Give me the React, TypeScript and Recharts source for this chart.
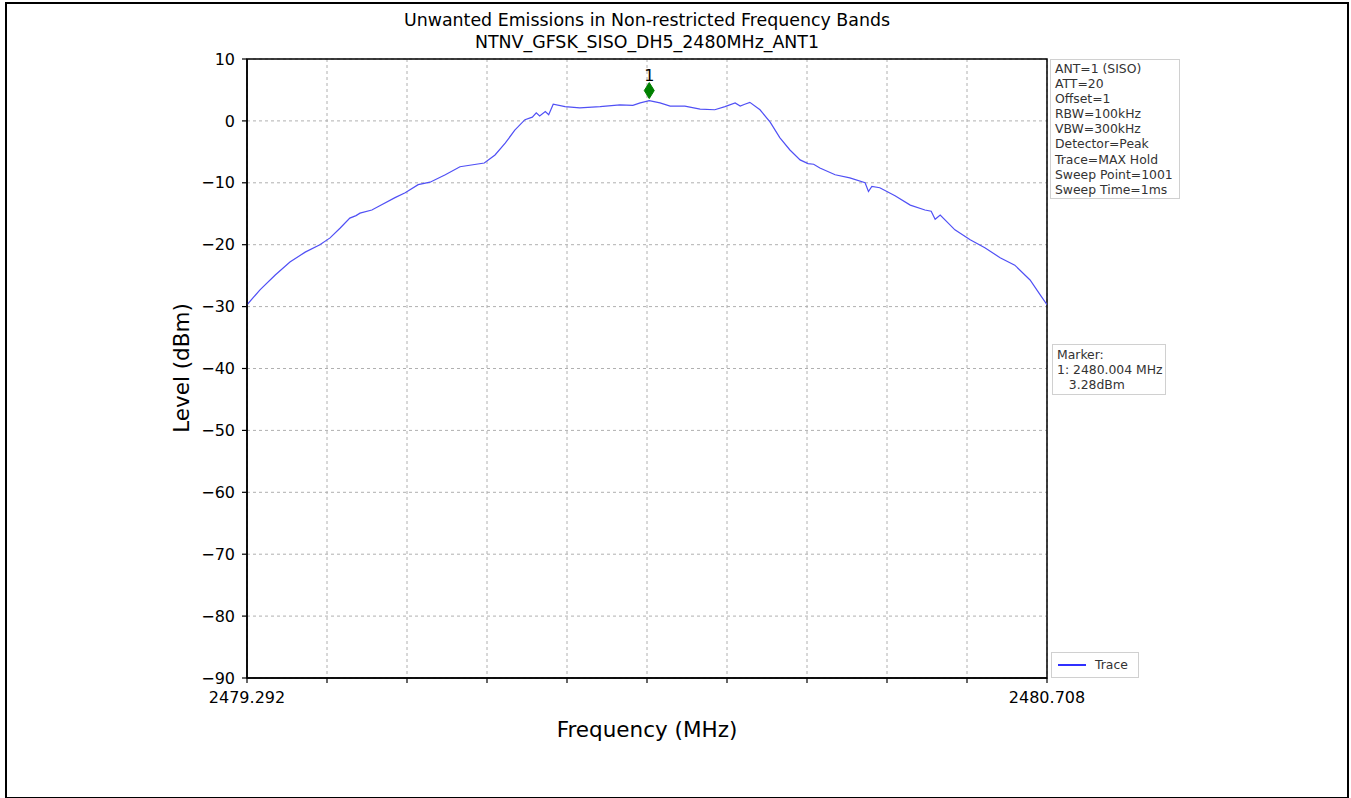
import { LineChart, Line, XAxis, YAxis, CartesianGrid, ReferenceArea, ReferenceDot } from 'recharts'

// trace (MHz / dBm)
const freqs = [
  2479.292, 2479.315, 2479.342, 2479.368, 2479.395, 2479.421, 2479.439, 2479.457, 2479.474, 2479.485,
  2479.492, 2479.513, 2479.527, 2479.554, 2479.572, 2479.595, 2479.616, 2479.643, 2479.669, 2479.712,
  2479.731, 2479.749, 2479.766, 2479.784, 2479.797, 2479.804, 2479.81, 2479.82, 2479.826, 2479.834,
  2479.855, 2479.881, 2479.917, 2479.952, 2479.975, 2479.988, 2480.004, 2480.023, 2480.041, 2480.067,
  2480.094, 2480.12, 2480.138, 2480.156, 2480.165, 2480.173, 2480.182, 2480.2, 2480.218, 2480.235,
  2480.253, 2480.271, 2480.285, 2480.295, 2480.306, 2480.333, 2480.359, 2480.386, 2480.392, 2480.398,
  2480.412, 2480.439, 2480.466, 2480.492, 2480.503, 2480.51, 2480.519, 2480.545, 2480.572, 2480.598,
  2480.625, 2480.651, 2480.678, 2480.696, 2480.708,
]
const levels = [
  -29.7, -27.3, -24.9, -22.8, -21.2, -20.0, -18.9, -17.3, -15.7, -15.3,
  -14.9, -14.4, -13.7, -12.4, -11.6, -10.3, -9.9, -8.7, -7.4, -6.8,
  -5.5, -3.6, -1.5, 0.2, 0.6, 1.3, 0.8, 1.5, 1.0, 2.7,
  2.3, 2.1, 2.3, 2.6, 2.5, 2.9, 3.28, 2.9, 2.4, 2.4,
  1.9, 1.8, 2.3, 2.9, 2.4, 2.7, 3.0, 1.8, -0.2, -2.7,
  -4.7, -6.3, -6.9, -7.0, -7.6, -8.7, -9.2, -10.0, -11.4, -10.6,
  -10.8, -12.1, -13.6, -14.4, -14.6, -15.9, -15.2, -17.6, -19.2, -20.5,
  -22.1, -23.3, -25.7, -28.1, -29.7,
]
const xTicks = [
  2479.292, 2479.4336, 2479.5752, 2479.7168, 2479.8584, 2480.0, 2480.1416, 2480.2832, 2480.4248, 2480.5664,
  2480.708,
]
const yTicks = [10, 0, -10, -20, -30, -40, -50, -60, -70, -80, -90]
const settings = [
  'ANT=1 (SISO)',
  'ATT=20',
  'Offset=1',
  'RBW=100kHz',
  'VBW=300kHz',
  'Detector=Peak',
  'Trace=MAX Hold',
  'Sweep Point=1001',
  'Sweep Time=1ms',
]
const markerLines = ['Marker:', '1: 2480.004 MHz', '   3.28dBm']
const markerFreq = 2480.004
const markerLevel = 4.9

const font = '"DejaVu Sans", sans-serif'

const chartData = freqs.map((f, i) => ({ freq: f, level: levels[i] }))

function XTick(props: any) {
  const { x, y, payload, index } = props
  const show = index === 0 || index === xTicks.length - 1
  return (
    <g>
      <line x1={x} y1={y - 8} x2={x} y2={y - 3} stroke="#000" strokeWidth={1.2} />
      {show && (
        <text x={x} y={y + 17} textAnchor="middle" fontSize={16} fill="#000" fontFamily={font}>
          {payload.value.toFixed(3)}
        </text>
      )}
    </g>
  )
}

function Diamond(props: any) {
  const { cx, cy } = props
  return (
    <g>
      <polygon
        points={`${cx},${cy - 8} ${cx + 5},${cy} ${cx},${cy + 8} ${cx - 5},${cy}`}
        fill="#008000"
        stroke="#008000"
      />
      <text x={cx} y={cy - 10} textAnchor="middle" fontSize={16} fill="#000" fontFamily={font}>
        1
      </text>
    </g>
  )
}

const boxStyle: React.CSSProperties = {
  position: 'absolute',
  border: '1px solid #d0d0d0',
  background: '#fff',
  fontFamily: font,
  fontSize: 12.4,
  lineHeight: '15.1px',
  color: '#333',
  whiteSpace: 'pre',
  padding: '1px 4px',
}

export default function App() {
  return (
    <div style={{ position: 'absolute', left: 0, top: 0, width: 1351, height: 798, background: '#fff', fontFamily: font }}>
      <div style={{ position: 'absolute', left: 5, top: 2, width: 1340, height: 793, border: '2px solid #000' }} />
      <div
        style={{
          position: 'absolute',
          left: 247,
          width: 800,
          top: 9,
          textAlign: 'center',
          fontSize: 17.4,
          lineHeight: '22px',
          color: '#000',
        }}
      >
        <div>Unwanted Emissions in Non-restricted Frequency Bands</div>
        <div>NTNV_GFSK_SISO_DH5_2480MHz_ANT1</div>
      </div>
      <LineChart
        width={1351}
        height={798}
        data={chartData}
        margin={{ top: 59, left: 187, right: 304, bottom: 90 }}
        style={{ position: 'absolute', left: 0, top: 0 }}
      >
        <CartesianGrid
          stroke="#b0b0b0"
          strokeDasharray="3 3"
          verticalValues={xTicks}
          horizontalValues={yTicks}
        />
        <XAxis
          dataKey="freq"
          type="number"
          domain={[2479.292, 2480.708]}
          ticks={xTicks}
          interval={0}
          height={30}
          axisLine={{ stroke: '#000', strokeWidth: 1.5 }}
          tickLine={false}
          tick={<XTick />}
          allowDataOverflow
        />
        <YAxis
          type="number"
          domain={[-90, 10]}
          ticks={yTicks}
          interval={0}
          width={60}
          axisLine={{ stroke: '#000', strokeWidth: 1.5 }}
          tickLine={{ stroke: '#000', strokeWidth: 1.2 }}
          tickSize={5}
          tick={{ fontSize: 16, fill: '#000', fontFamily: font, dx: -5 }}
          tickFormatter={(v: number) => String(v).replace('-', '\u2212')}
        />
        <ReferenceArea
          x1={2479.292}
          x2={2480.708}
          y1={-90}
          y2={10}
          fill="none"
          stroke="#000"
          strokeWidth={1.5}
          ifOverflow="visible"
        />
        <Line
          type="linear"
          dataKey="level"
          stroke="#5050f5"
          strokeWidth={1.2}
          dot={false}
          isAnimationActive={false}
        />
        <ReferenceDot x={markerFreq} y={markerLevel} shape={<Diamond />} ifOverflow="visible" />
      </LineChart>
      <div
        style={{
          position: 'absolute',
          left: 181,
          top: 368,
          transform: 'translate(-50%, -50%) rotate(-90deg)',
          fontSize: 21.5,
          whiteSpace: 'nowrap',
          color: '#000',
        }}
      >
        Level (dBm)
      </div>
      <div
        style={{
          position: 'absolute',
          left: 247,
          width: 800,
          top: 717,
          textAlign: 'center',
          fontSize: 21.5,
          color: '#000',
        }}
      >
        Frequency (MHz)
      </div>
      <div style={{ ...boxStyle, left: 1050, top: 59, width: 120 }}>
        {settings.map((s) => (
          <div key={s}>{s}</div>
        ))}
      </div>
      <div style={{ ...boxStyle, left: 1052, top: 344, width: 104, paddingTop: 2, paddingBottom: 2 }}>
        {markerLines.map((s) => (
          <div key={s}>{s}</div>
        ))}
      </div>
      <div style={{ ...boxStyle, left: 1051, top: 652, width: 78, height: 22, display: 'flex', alignItems: 'center' }}>
        <div style={{ width: 28, height: 2, background: '#3030ff', marginLeft: 2, marginRight: 9 }} />
        <span>Trace</span>
      </div>
    </div>
  )
}
